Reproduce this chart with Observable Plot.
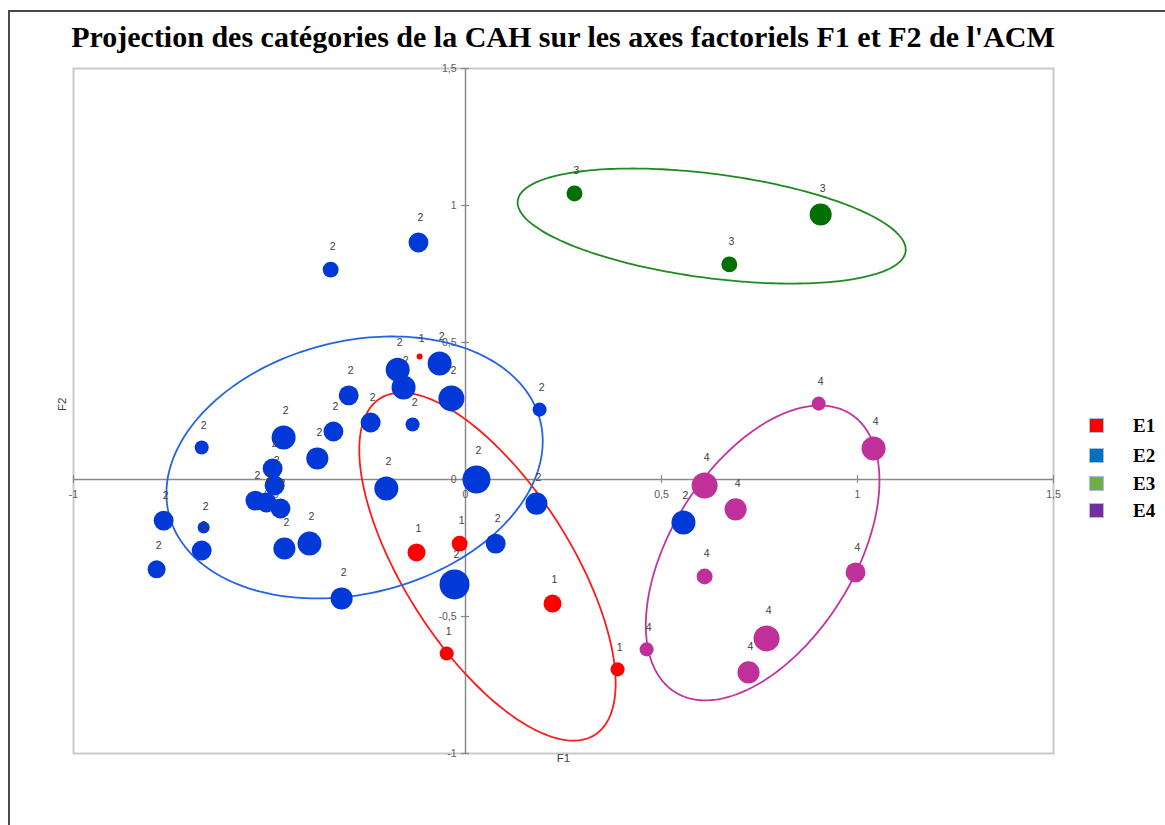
<!DOCTYPE html>
<html>
<head>
<meta charset="utf-8">
<script src="https://cdn.jsdelivr.net/npm/d3@7"></script>
<script src="https://cdn.jsdelivr.net/npm/@observablehq/plot@0.6"></script>
<style>
  html, body { margin: 0; padding: 0; background: #fff; }
  #page { position: relative; width: 1165px; height: 825px; overflow: hidden; background: #fff; }
  #cadre { position: absolute; left: 8px; top: 10px; width: 1200px; height: 900px;
           border-top: 2px solid #4a4a4a; border-left: 2px solid #4a4a4a; }
  #titre { position: absolute; left: 0; top: 20px; width: 1126px; text-align: center;
           font-family: "Liberation Serif", "Times New Roman", serif; font-weight: bold;
           font-size: 30px; line-height: 34px; color: #000; white-space: nowrap; }
  #legende { position: absolute; left: 1089px; top: 418px; font-family: "Liberation Serif", serif;
             font-weight: bold; font-size: 19px; color: #000; }
  .item { position: absolute; left: 0; height: 16px; width: 80px; }
  .carre { position: absolute; left: 0; top: 0; width: 15px; height: 15px; border: 1px solid #a9bfd8; box-sizing: border-box; }
  .lib { position: absolute; left: 44px; top: -3px; line-height: 22px; }
  #plot { position: absolute; left: 0; top: 0; }
</style>
</head>
<body>
<div id="page">
  <div id="cadre"></div>
  <div id="plot"></div>
  <div id="titre"></div>
  <div id="legende"></div>
</div>
<script>
// ---- Données ----
const titre = "Projection des catégories de la CAH sur les axes factoriels F1 et F2 de l'ACM";

// coordonnées des catégories (F1, F2), groupe CAH et poids (taille du point)
const f1 = [
  -0.117, -0.125, -0.015, 0.222, -0.048, 0.388,
  -0.344, -0.120, -0.673, -0.464, -0.378, -0.337, -0.298, -0.242, -0.173, -0.158, -0.066, -0.036,
  -0.135, -0.202, 0.028, -0.492, -0.487, -0.536, -0.508, -0.472, -0.770, -0.668, -0.673, -0.788,
  -0.462, -0.398, -0.316, -0.028, 0.189, 0.181, 0.077, 0.556,
  0.278, 0.906, 0.673,
  0.901, 1.041, 0.610, 0.689, 0.610, 0.995, 0.768, 0.722, 0.462
];
const f2 = [
  0.449, -0.266, -0.234, -0.453, -0.635, -0.693,
  0.766, 0.865, 0.117, 0.153, 0.077, 0.175, 0.307, 0.208, 0.401, 0.336, 0.423, 0.296,
  0.201, -0.033, 0.000, 0.040, -0.022, -0.077, -0.084, -0.106, -0.150, -0.175, -0.259, -0.328,
  -0.252, -0.234, -0.434, -0.383, 0.255, -0.088, -0.234, -0.157,
  1.044, 0.967, 0.785,
  0.277, 0.113, -0.022, -0.109, -0.354, -0.339, -0.580, -0.704, -0.620
];
const groupe = [
  1, 1, 1, 1, 1, 1,
  2, 2, 2, 2, 2, 2, 2, 2, 2, 2, 2, 2,
  2, 2, 2, 2, 2, 2, 2, 2, 2, 2, 2, 2,
  2, 2, 2, 2, 2, 2, 2, 2,
  3, 3, 3,
  4, 4, 4, 4, 4, 4, 4, 4, 4
];
const poids = [
  4, 36, 28, 36, 22, 22,
  28, 44, 22, 64, 54, 44, 44, 44, 64, 64, 64, 75,
  22, 64, 87, 44, 44, 44, 44, 44, 44, 16, 44, 36,
  54, 64, 54, 100, 22, 54, 44, 64,
  28, 54, 28,
  22, 64, 75, 54, 28, 44, 75, 54, 22
];

// ellipses de confiance des groupes (centre, demi-étendues, corrélation)
const ellGroupe = [1, 2, 3, 4];
const ellCentreF1 = [0.056, -0.283, 0.628, 0.758];
const ellCentreF2 = [-0.318, 0.044, 0.925, -0.268];
const ellDemiF1 = [0.327, 0.480, 0.495, 0.298];
const ellDemiF2 = [0.635, 0.478, 0.210, 0.538];
const ellRho = [-0.67, 0.20, -0.41, 0.49];

// graduations
const ticksF1 = [-1, -0.5, 0, 0.5, 1, 1.5];
const ticksF2 = [-1, -0.5, 0, 0.5, 1, 1.5];
const tickLabels = ["-1", "-0,5", "0", "0,5", "1", "1,5"];

// légende
const legendeNoms = ["E1", "E2", "E3", "E4"];
const legendeCouleurs = ["#ff0000", "#0070c0", "#70ad47", "#7030a0"];

// couleurs
const couleurPoints = {1: "#ff0000", 2: "#0039d8", 3: "#007000", 4: "#c0309a"};
const couleurEllipses = {1: "#ff1a1a", 2: "#2563e6", 3: "#1f8a1f", 4: "#c4349f"};

// ---- Construction ----
const points = f1.map((x, i) => ({f1: x, f2: f2[i], groupe: groupe[i], poids: poids[i]}));

const ellipses = [];
ellGroupe.forEach((g, k) => {
  const n = 240;
  const rho = ellRho[k];
  for (let j = 0; j < n; j++) {
    const t = 2 * Math.PI * j / n;
    ellipses.push({
      groupe: g,
      f1: ellCentreF1[k] + ellDemiF1[k] * Math.cos(t),
      f2: ellCentreF2[k] + ellDemiF2[k] * (rho * Math.cos(t) + Math.sqrt(1 - rho * rho) * Math.sin(t))
    });
  }
});

const rScale = d3.scaleSqrt().domain([0, 100]).range([0, 15]);
const poidsDistincts = Array.from(new Set(poids));
const labelMarks = poidsDistincts.map(w => Plot.text(points.filter(d => d.poids === w), {
  x: "f1", y: "f2", text: d => String(d.groupe), dy: -(rScale(w) + 15), dx: 2,
  fill: "#404040", fontSize: 10.5
}));

const tickIdx = ticksF1.map((_, i) => i);

const chart = Plot.plot({
  width: 1165,
  height: 825,
  marginLeft: 73,
  marginRight: 112,
  marginTop: 68,
  marginBottom: 72,
  style: {fontFamily: "'Liberation Sans', Arial, sans-serif", fontSize: "10px", background: "transparent"},
  x: {domain: [-1, 1.5], axis: null},
  y: {domain: [-1, 1.5], axis: null},
  r: {type: "sqrt", domain: [0, 100], range: [0, 15]},
  marks: [
    Plot.frame({stroke: "#c9c9c9", strokeWidth: 2}),
    Plot.ruleY([0], {stroke: "#8a8a8a", strokeWidth: 1.5}),
    Plot.ruleX([0], {stroke: "#8a8a8a", strokeWidth: 1.5}),
    Plot.ruleX(ticksF1, {x: d => d, y1: 0, y2: 0, insetTop: -4, insetBottom: -4, stroke: "#8a8a8a", strokeWidth: 1.2}),
    Plot.ruleY(ticksF2, {y: d => d, x1: 0, x2: 0, insetLeft: -4, insetRight: -4, stroke: "#8a8a8a", strokeWidth: 1.2}),
    Plot.text(tickIdx, {x: i => ticksF1[i], y: 0, text: i => tickLabels[i], dy: 15, fill: "#595959", fontSize: 10.5}),
    Plot.text(tickIdx, {x: 0, y: i => ticksF2[i], text: i => tickLabels[i], dx: -9, textAnchor: "end", fill: "#595959", fontSize: 10.5}),
    Plot.text(["F1"], {frameAnchor: "bottom", dy: 8, text: d => d, fill: "#404040", fontSize: 11.5}),
    Plot.text(["F2"], {frameAnchor: "left", dx: -11, rotate: -90, text: d => d, fill: "#404040", fontSize: 11.5}),
    Plot.line(ellipses, {x: "f1", y: "f2", z: "groupe", stroke: d => couleurEllipses[d.groupe], strokeWidth: 1.8, curve: "linear-closed"}),
    Plot.dot(points, {x: "f1", y: "f2", r: "poids", fill: d => couleurPoints[d.groupe], stroke: "none"}),
    ...labelMarks
  ]
});
document.getElementById("plot").appendChild(chart);

document.getElementById("titre").textContent = titre;

const leg = document.getElementById("legende");
const legTops = [0, 30, 58, 85];
legendeNoms.forEach((nom, i) => {
  const it = document.createElement("div");
  it.className = "item";
  it.style.top = legTops[i] + "px";
  const c = document.createElement("div");
  c.className = "carre";
  c.style.background = legendeCouleurs[i];
  const l = document.createElement("div");
  l.className = "lib";
  l.textContent = nom;
  it.appendChild(c); it.appendChild(l);
  leg.appendChild(it);
});
</script>
</body>
</html>
